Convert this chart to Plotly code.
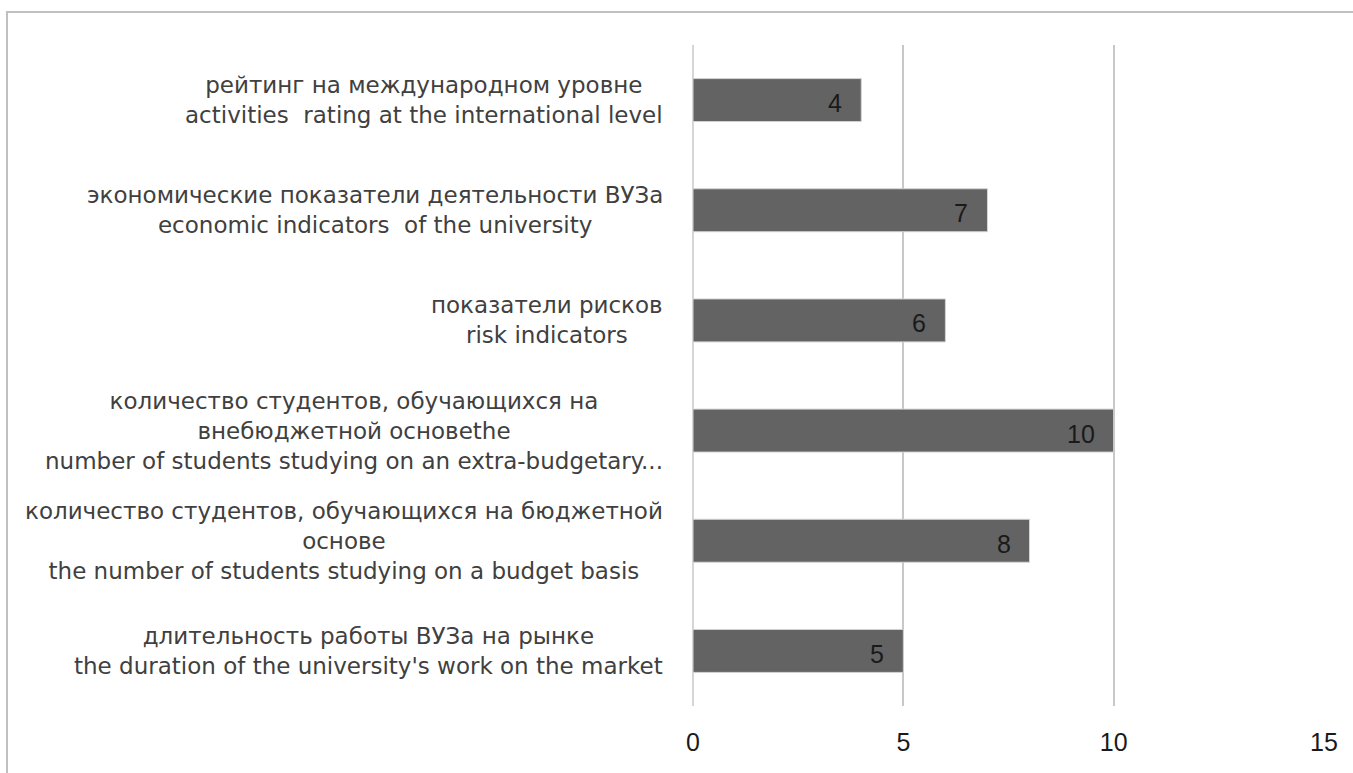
import plotly.graph_objects as go

# ---- data (top to bottom as shown) ----
label_lines = [
    ["рейтинг на международном уровне", "activities  rating at the international level"],
    ["экономические показатели деятельности ВУЗа", "economic indicators  of the university"],
    ["показатели рисков", "risk indicators"],
    ["количество студентов, обучающихся на", "внебюджетной основеthe",
     "number of students studying on an extra-budgetary..."],
    ["количество студентов, обучающихся на бюджетной", "основе",
     "the number of students studying on a budget basis"],
    ["длительность работы ВУЗа на рынке", "the duration of the university's work on the market"],
]
categories = ["<br>".join(ls) for ls in label_lines]
values = [4, 7, 6, 10, 8, 5]
x_ticks = [0, 5, 10, 15]
x_range = [0, 15]

# ---- layout constants (pixels) ----
W, H = 1353, 773
L, R, T, B = 693, 29, 45, 67
PW, PH = W - L - R, H - T - B

LABEL_FONT = dict(family="DejaVu Sans", size=23, color="#404040")
NUM_FONT = dict(family="Liberation Sans Narrow, Arial Narrow, Liberation Sans", size=25, color="#1a1a1a")

fig = go.Figure(
    go.Bar(
        y=categories,
        x=values,
        orientation="h",
        marker=dict(color="#636363", line=dict(color="#d4d4d4", width=1)),
        hoverinfo="skip",
    )
)

annotations = []
for cat, val in zip(categories, values):
    annotations.append(dict(
        x=0, y=cat, xref="x", yref="y", text=cat, showarrow=False,
        xanchor="right", yanchor="middle", align="center", xshift=-28,
        font=LABEL_FONT,
    ))
    annotations.append(dict(
        x=val, y=cat, xref="x", yref="y", text=str(val), showarrow=False,
        xanchor="right", yanchor="middle", xshift=-17, yshift=-3,
        font=NUM_FONT,
    ))

fig.update_layout(
    width=W, height=H,
    margin=dict(l=L, r=R, t=T, b=B, pad=0),
    paper_bgcolor="white", plot_bgcolor="white",
    bargap=0.61,
    showlegend=False,
    annotations=annotations,
    xaxis=dict(
        range=x_range, tickvals=x_ticks, ticktext=[str(v) for v in x_ticks],
        showgrid=True, gridcolor="#c8c8c8", gridwidth=1.5,
        zeroline=False, showline=False,
        ticks="outside", ticklen=14, tickcolor="rgba(0,0,0,0)",
        tickfont=NUM_FONT, fixedrange=True,
    ),
    yaxis=dict(
        autorange="reversed", showticklabels=False, showgrid=False,
        zeroline=False, showline=False, ticks="", fixedrange=True,
    ),
    shapes=[
        dict(type="line", xref="paper", yref="paper",
             x0=0, x1=0, y0=0, y1=1, line=dict(color="#c8c8c8", width=1.5), layer="below"),
        dict(type="rect", xref="paper", yref="paper",
             x0=(7 - L) / PW, x1=(W + 10 - L) / PW,
             y0=-(H + 10 - T - PH) / PH, y1=1 + (T - 12) / PH,
             line=dict(color="#c0c0c0", width=2), fillcolor="rgba(0,0,0,0)"),
    ],
)

fig.write_html(
    "out.html",
    config={"displayModeBar": False},
    post_script="document.body.style.margin='0';document.body.style.overflow='hidden';",
)
